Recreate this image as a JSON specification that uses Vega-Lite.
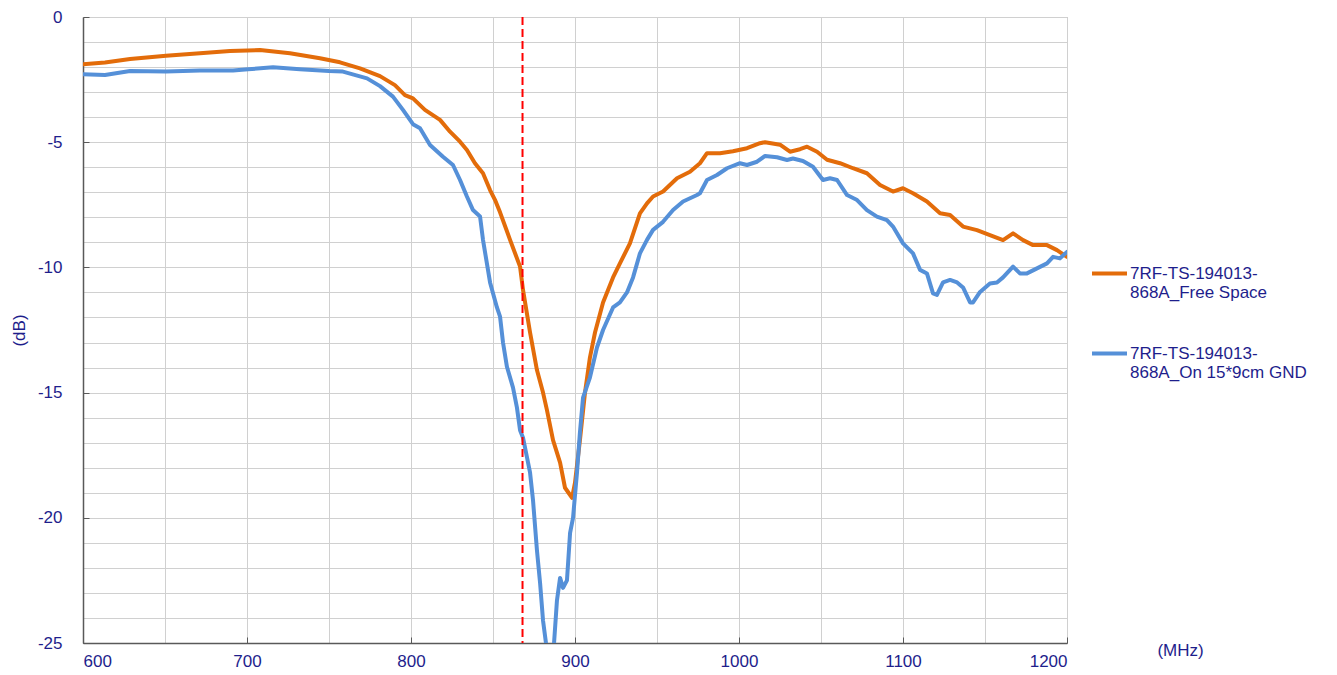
{
  "$schema": "https://vega.github.io/schema/vega-lite/v6.json",
  "width": 984,
  "height": 626,
  "autosize": {"type": "none"},
  "padding": {"left": 83, "top": 17, "right": 270, "bottom": 32},
  "background": "white",
  "config": {
    "view": {"stroke": "#b0b0b0", "strokeWidth": 1},
    "font": "Liberation Sans"
  },
  "datasets": {
    "curves": [
      {"f": 600, "db": -1.89, "s": "7RF-TS-194013-\n868A_Free Space"},
      {"f": 613.4, "db": -1.82, "s": "7RF-TS-194013-\n868A_Free Space"},
      {"f": 628.7, "db": -1.68, "s": "7RF-TS-194013-\n868A_Free Space"},
      {"f": 650.6, "db": -1.55, "s": "7RF-TS-194013-\n868A_Free Space"},
      {"f": 671.3, "db": -1.45, "s": "7RF-TS-194013-\n868A_Free Space"},
      {"f": 689.6, "db": -1.36, "s": "7RF-TS-194013-\n868A_Free Space"},
      {"f": 707.9, "db": -1.32, "s": "7RF-TS-194013-\n868A_Free Space"},
      {"f": 726.2, "db": -1.45, "s": "7RF-TS-194013-\n868A_Free Space"},
      {"f": 744.5, "db": -1.65, "s": "7RF-TS-194013-\n868A_Free Space"},
      {"f": 756.7, "db": -1.81, "s": "7RF-TS-194013-\n868A_Free Space"},
      {"f": 768.9, "db": -2.05, "s": "7RF-TS-194013-\n868A_Free Space"},
      {"f": 781.1, "db": -2.36, "s": "7RF-TS-194013-\n868A_Free Space"},
      {"f": 790.2, "db": -2.72, "s": "7RF-TS-194013-\n868A_Free Space"},
      {"f": 796.3, "db": -3.12, "s": "7RF-TS-194013-\n868A_Free Space"},
      {"f": 801.2, "db": -3.25, "s": "7RF-TS-194013-\n868A_Free Space"},
      {"f": 808.5, "db": -3.71, "s": "7RF-TS-194013-\n868A_Free Space"},
      {"f": 817.7, "db": -4.11, "s": "7RF-TS-194013-\n868A_Free Space"},
      {"f": 823.8, "db": -4.58, "s": "7RF-TS-194013-\n868A_Free Space"},
      {"f": 829.9, "db": -4.98, "s": "7RF-TS-194013-\n868A_Free Space"},
      {"f": 834.1, "db": -5.31, "s": "7RF-TS-194013-\n868A_Free Space"},
      {"f": 839.0, "db": -5.84, "s": "7RF-TS-194013-\n868A_Free Space"},
      {"f": 843.9, "db": -6.24, "s": "7RF-TS-194013-\n868A_Free Space"},
      {"f": 848.2, "db": -6.91, "s": "7RF-TS-194013-\n868A_Free Space"},
      {"f": 851.2, "db": -7.3, "s": "7RF-TS-194013-\n868A_Free Space"},
      {"f": 854.3, "db": -7.8, "s": "7RF-TS-194013-\n868A_Free Space"},
      {"f": 860.4, "db": -8.9, "s": "7RF-TS-194013-\n868A_Free Space"},
      {"f": 866.5, "db": -9.97, "s": "7RF-TS-194013-\n868A_Free Space"},
      {"f": 868.3, "db": -10.9, "s": "7RF-TS-194013-\n868A_Free Space"},
      {"f": 872.6, "db": -12.6, "s": "7RF-TS-194013-\n868A_Free Space"},
      {"f": 876.8, "db": -14.1, "s": "7RF-TS-194013-\n868A_Free Space"},
      {"f": 880.5, "db": -15.0, "s": "7RF-TS-194013-\n868A_Free Space"},
      {"f": 882.9, "db": -15.7, "s": "7RF-TS-194013-\n868A_Free Space"},
      {"f": 886.6, "db": -16.9, "s": "7RF-TS-194013-\n868A_Free Space"},
      {"f": 890.9, "db": -17.8, "s": "7RF-TS-194013-\n868A_Free Space"},
      {"f": 893.9, "db": -18.8, "s": "7RF-TS-194013-\n868A_Free Space"},
      {"f": 898.2, "db": -19.2, "s": "7RF-TS-194013-\n868A_Free Space"},
      {"f": 900.0, "db": -18.6, "s": "7RF-TS-194013-\n868A_Free Space"},
      {"f": 903.0, "db": -16.9, "s": "7RF-TS-194013-\n868A_Free Space"},
      {"f": 906.1, "db": -15.0, "s": "7RF-TS-194013-\n868A_Free Space"},
      {"f": 909.1, "db": -13.6, "s": "7RF-TS-194013-\n868A_Free Space"},
      {"f": 912.2, "db": -12.6, "s": "7RF-TS-194013-\n868A_Free Space"},
      {"f": 917.1, "db": -11.4, "s": "7RF-TS-194013-\n868A_Free Space"},
      {"f": 923.2, "db": -10.4, "s": "7RF-TS-194013-\n868A_Free Space"},
      {"f": 927.4, "db": -9.84, "s": "7RF-TS-194013-\n868A_Free Space"},
      {"f": 933.5, "db": -9.04, "s": "7RF-TS-194013-\n868A_Free Space"},
      {"f": 939.6, "db": -7.84, "s": "7RF-TS-194013-\n868A_Free Space"},
      {"f": 943.9, "db": -7.44, "s": "7RF-TS-194013-\n868A_Free Space"},
      {"f": 947.6, "db": -7.17, "s": "7RF-TS-194013-\n868A_Free Space"},
      {"f": 953.7, "db": -6.97, "s": "7RF-TS-194013-\n868A_Free Space"},
      {"f": 962.2, "db": -6.44, "s": "7RF-TS-194013-\n868A_Free Space"},
      {"f": 970.1, "db": -6.18, "s": "7RF-TS-194013-\n868A_Free Space"},
      {"f": 976.2, "db": -5.84, "s": "7RF-TS-194013-\n868A_Free Space"},
      {"f": 980.5, "db": -5.44, "s": "7RF-TS-194013-\n868A_Free Space"},
      {"f": 988.4, "db": -5.44, "s": "7RF-TS-194013-\n868A_Free Space"},
      {"f": 996.3, "db": -5.36, "s": "7RF-TS-194013-\n868A_Free Space"},
      {"f": 1004.9, "db": -5.24, "s": "7RF-TS-194013-\n868A_Free Space"},
      {"f": 1012.8, "db": -5.04, "s": "7RF-TS-194013-\n868A_Free Space"},
      {"f": 1015.9, "db": -5.0, "s": "7RF-TS-194013-\n868A_Free Space"},
      {"f": 1025.0, "db": -5.1, "s": "7RF-TS-194013-\n868A_Free Space"},
      {"f": 1031.1, "db": -5.38, "s": "7RF-TS-194013-\n868A_Free Space"},
      {"f": 1037.2, "db": -5.28, "s": "7RF-TS-194013-\n868A_Free Space"},
      {"f": 1041.5, "db": -5.18, "s": "7RF-TS-194013-\n868A_Free Space"},
      {"f": 1047.6, "db": -5.38, "s": "7RF-TS-194013-\n868A_Free Space"},
      {"f": 1053.7, "db": -5.7, "s": "7RF-TS-194013-\n868A_Free Space"},
      {"f": 1061.6, "db": -5.84, "s": "7RF-TS-194013-\n868A_Free Space"},
      {"f": 1069.5, "db": -6.04, "s": "7RF-TS-194013-\n868A_Free Space"},
      {"f": 1078.0, "db": -6.24, "s": "7RF-TS-194013-\n868A_Free Space"},
      {"f": 1086.0, "db": -6.71, "s": "7RF-TS-194013-\n868A_Free Space"},
      {"f": 1093.9, "db": -6.97, "s": "7RF-TS-194013-\n868A_Free Space"},
      {"f": 1100.0, "db": -6.84, "s": "7RF-TS-194013-\n868A_Free Space"},
      {"f": 1106.1, "db": -7.04, "s": "7RF-TS-194013-\n868A_Free Space"},
      {"f": 1114.6, "db": -7.37, "s": "7RF-TS-194013-\n868A_Free Space"},
      {"f": 1122.6, "db": -7.84, "s": "7RF-TS-194013-\n868A_Free Space"},
      {"f": 1128.7, "db": -7.91, "s": "7RF-TS-194013-\n868A_Free Space"},
      {"f": 1136.6, "db": -8.37, "s": "7RF-TS-194013-\n868A_Free Space"},
      {"f": 1145.1, "db": -8.51, "s": "7RF-TS-194013-\n868A_Free Space"},
      {"f": 1153.0, "db": -8.71, "s": "7RF-TS-194013-\n868A_Free Space"},
      {"f": 1161.0, "db": -8.91, "s": "7RF-TS-194013-\n868A_Free Space"},
      {"f": 1167.1, "db": -8.64, "s": "7RF-TS-194013-\n868A_Free Space"},
      {"f": 1173.2, "db": -8.91, "s": "7RF-TS-194013-\n868A_Free Space"},
      {"f": 1179.3, "db": -9.11, "s": "7RF-TS-194013-\n868A_Free Space"},
      {"f": 1187.8, "db": -9.11, "s": "7RF-TS-194013-\n868A_Free Space"},
      {"f": 1193.9, "db": -9.31, "s": "7RF-TS-194013-\n868A_Free Space"},
      {"f": 1200, "db": -9.58, "s": "7RF-TS-194013-\n868A_Free Space"},

      {"f": 600, "db": -2.29, "s": "7RF-TS-194013-\n868A_On 15*9cm GND"},
      {"f": 613.4, "db": -2.32, "s": "7RF-TS-194013-\n868A_On 15*9cm GND"},
      {"f": 628.7, "db": -2.16, "s": "7RF-TS-194013-\n868A_On 15*9cm GND"},
      {"f": 650.6, "db": -2.18, "s": "7RF-TS-194013-\n868A_On 15*9cm GND"},
      {"f": 671.3, "db": -2.14, "s": "7RF-TS-194013-\n868A_On 15*9cm GND"},
      {"f": 691.5, "db": -2.14, "s": "7RF-TS-194013-\n868A_On 15*9cm GND"},
      {"f": 700.6, "db": -2.09, "s": "7RF-TS-194013-\n868A_On 15*9cm GND"},
      {"f": 715.9, "db": -2.01, "s": "7RF-TS-194013-\n868A_On 15*9cm GND"},
      {"f": 732.3, "db": -2.09, "s": "7RF-TS-194013-\n868A_On 15*9cm GND"},
      {"f": 750.0, "db": -2.16, "s": "7RF-TS-194013-\n868A_On 15*9cm GND"},
      {"f": 758.5, "db": -2.18, "s": "7RF-TS-194013-\n868A_On 15*9cm GND"},
      {"f": 773.2, "db": -2.45, "s": "7RF-TS-194013-\n868A_On 15*9cm GND"},
      {"f": 781.1, "db": -2.76, "s": "7RF-TS-194013-\n868A_On 15*9cm GND"},
      {"f": 789.0, "db": -3.18, "s": "7RF-TS-194013-\n868A_On 15*9cm GND"},
      {"f": 795.1, "db": -3.71, "s": "7RF-TS-194013-\n868A_On 15*9cm GND"},
      {"f": 801.2, "db": -4.28, "s": "7RF-TS-194013-\n868A_On 15*9cm GND"},
      {"f": 805.5, "db": -4.44, "s": "7RF-TS-194013-\n868A_On 15*9cm GND"},
      {"f": 811.6, "db": -5.11, "s": "7RF-TS-194013-\n868A_On 15*9cm GND"},
      {"f": 819.5, "db": -5.58, "s": "7RF-TS-194013-\n868A_On 15*9cm GND"},
      {"f": 825.6, "db": -5.91, "s": "7RF-TS-194013-\n868A_On 15*9cm GND"},
      {"f": 829.9, "db": -6.51, "s": "7RF-TS-194013-\n868A_On 15*9cm GND"},
      {"f": 834.1, "db": -7.17, "s": "7RF-TS-194013-\n868A_On 15*9cm GND"},
      {"f": 837.8, "db": -7.71, "s": "7RF-TS-194013-\n868A_On 15*9cm GND"},
      {"f": 842.1, "db": -7.97, "s": "7RF-TS-194013-\n868A_On 15*9cm GND"},
      {"f": 843.9, "db": -8.9, "s": "7RF-TS-194013-\n868A_On 15*9cm GND"},
      {"f": 848.2, "db": -10.6, "s": "7RF-TS-194013-\n868A_On 15*9cm GND"},
      {"f": 852.4, "db": -11.6, "s": "7RF-TS-194013-\n868A_On 15*9cm GND"},
      {"f": 854.3, "db": -11.97, "s": "7RF-TS-194013-\n868A_On 15*9cm GND"},
      {"f": 856.1, "db": -13.0, "s": "7RF-TS-194013-\n868A_On 15*9cm GND"},
      {"f": 858.5, "db": -13.97, "s": "7RF-TS-194013-\n868A_On 15*9cm GND"},
      {"f": 862.2, "db": -14.8, "s": "7RF-TS-194013-\n868A_On 15*9cm GND"},
      {"f": 864.6, "db": -15.6, "s": "7RF-TS-194013-\n868A_On 15*9cm GND"},
      {"f": 866.5, "db": -16.5, "s": "7RF-TS-194013-\n868A_On 15*9cm GND"},
      {"f": 868.3, "db": -16.8, "s": "7RF-TS-194013-\n868A_On 15*9cm GND"},
      {"f": 872.6, "db": -18.2, "s": "7RF-TS-194013-\n868A_On 15*9cm GND"},
      {"f": 874.4, "db": -19.3, "s": "7RF-TS-194013-\n868A_On 15*9cm GND"},
      {"f": 876.8, "db": -21.3, "s": "7RF-TS-194013-\n868A_On 15*9cm GND"},
      {"f": 878.7, "db": -22.6, "s": "7RF-TS-194013-\n868A_On 15*9cm GND"},
      {"f": 880.5, "db": -24.1, "s": "7RF-TS-194013-\n868A_On 15*9cm GND"},
      {"f": 882.9, "db": -25.3, "s": "7RF-TS-194013-\n868A_On 15*9cm GND"},
      {"f": 884.8, "db": -26.2, "s": "7RF-TS-194013-\n868A_On 15*9cm GND"},
      {"f": 886.6, "db": -25.6, "s": "7RF-TS-194013-\n868A_On 15*9cm GND"},
      {"f": 889.0, "db": -23.3, "s": "7RF-TS-194013-\n868A_On 15*9cm GND"},
      {"f": 890.9, "db": -22.4, "s": "7RF-TS-194013-\n868A_On 15*9cm GND"},
      {"f": 892.7, "db": -22.8, "s": "7RF-TS-194013-\n868A_On 15*9cm GND"},
      {"f": 895.1, "db": -22.5, "s": "7RF-TS-194013-\n868A_On 15*9cm GND"},
      {"f": 897.0, "db": -20.6, "s": "7RF-TS-194013-\n868A_On 15*9cm GND"},
      {"f": 898.8, "db": -20.0, "s": "7RF-TS-194013-\n868A_On 15*9cm GND"},
      {"f": 901.2, "db": -18.2, "s": "7RF-TS-194013-\n868A_On 15*9cm GND"},
      {"f": 903.0, "db": -16.6, "s": "7RF-TS-194013-\n868A_On 15*9cm GND"},
      {"f": 904.9, "db": -15.2, "s": "7RF-TS-194013-\n868A_On 15*9cm GND"},
      {"f": 909.1, "db": -14.4, "s": "7RF-TS-194013-\n868A_On 15*9cm GND"},
      {"f": 913.4, "db": -13.2, "s": "7RF-TS-194013-\n868A_On 15*9cm GND"},
      {"f": 917.1, "db": -12.5, "s": "7RF-TS-194013-\n868A_On 15*9cm GND"},
      {"f": 923.2, "db": -11.6, "s": "7RF-TS-194013-\n868A_On 15*9cm GND"},
      {"f": 927.4, "db": -11.4, "s": "7RF-TS-194013-\n868A_On 15*9cm GND"},
      {"f": 931.7, "db": -11.0, "s": "7RF-TS-194013-\n868A_On 15*9cm GND"},
      {"f": 935.4, "db": -10.4, "s": "7RF-TS-194013-\n868A_On 15*9cm GND"},
      {"f": 939.6, "db": -9.44, "s": "7RF-TS-194013-\n868A_On 15*9cm GND"},
      {"f": 943.9, "db": -8.9, "s": "7RF-TS-194013-\n868A_On 15*9cm GND"},
      {"f": 947.6, "db": -8.5, "s": "7RF-TS-194013-\n868A_On 15*9cm GND"},
      {"f": 953.7, "db": -8.18, "s": "7RF-TS-194013-\n868A_On 15*9cm GND"},
      {"f": 959.8, "db": -7.71, "s": "7RF-TS-194013-\n868A_On 15*9cm GND"},
      {"f": 965.9, "db": -7.37, "s": "7RF-TS-194013-\n868A_On 15*9cm GND"},
      {"f": 974.4, "db": -7.11, "s": "7RF-TS-194013-\n868A_On 15*9cm GND"},
      {"f": 976.2, "db": -7.04, "s": "7RF-TS-194013-\n868A_On 15*9cm GND"},
      {"f": 980.5, "db": -6.51, "s": "7RF-TS-194013-\n868A_On 15*9cm GND"},
      {"f": 986.6, "db": -6.31, "s": "7RF-TS-194013-\n868A_On 15*9cm GND"},
      {"f": 992.7, "db": -6.04, "s": "7RF-TS-194013-\n868A_On 15*9cm GND"},
      {"f": 1000.6, "db": -5.84, "s": "7RF-TS-194013-\n868A_On 15*9cm GND"},
      {"f": 1004.9, "db": -5.91, "s": "7RF-TS-194013-\n868A_On 15*9cm GND"},
      {"f": 1011.0, "db": -5.78, "s": "7RF-TS-194013-\n868A_On 15*9cm GND"},
      {"f": 1015.9, "db": -5.55, "s": "7RF-TS-194013-\n868A_On 15*9cm GND"},
      {"f": 1023.2, "db": -5.6, "s": "7RF-TS-194013-\n868A_On 15*9cm GND"},
      {"f": 1029.3, "db": -5.71, "s": "7RF-TS-194013-\n868A_On 15*9cm GND"},
      {"f": 1032.9, "db": -5.65, "s": "7RF-TS-194013-\n868A_On 15*9cm GND"},
      {"f": 1039.0, "db": -5.75, "s": "7RF-TS-194013-\n868A_On 15*9cm GND"},
      {"f": 1045.1, "db": -5.98, "s": "7RF-TS-194013-\n868A_On 15*9cm GND"},
      {"f": 1051.2, "db": -6.51, "s": "7RF-TS-194013-\n868A_On 15*9cm GND"},
      {"f": 1055.5, "db": -6.44, "s": "7RF-TS-194013-\n868A_On 15*9cm GND"},
      {"f": 1059.8, "db": -6.51, "s": "7RF-TS-194013-\n868A_On 15*9cm GND"},
      {"f": 1065.9, "db": -7.11, "s": "7RF-TS-194013-\n868A_On 15*9cm GND"},
      {"f": 1072.0, "db": -7.31, "s": "7RF-TS-194013-\n868A_On 15*9cm GND"},
      {"f": 1078.0, "db": -7.71, "s": "7RF-TS-194013-\n868A_On 15*9cm GND"},
      {"f": 1084.1, "db": -7.97, "s": "7RF-TS-194013-\n868A_On 15*9cm GND"},
      {"f": 1090.2, "db": -8.11, "s": "7RF-TS-194013-\n868A_On 15*9cm GND"},
      {"f": 1093.9, "db": -8.37, "s": "7RF-TS-194013-\n868A_On 15*9cm GND"},
      {"f": 1100.0, "db": -9.04, "s": "7RF-TS-194013-\n868A_On 15*9cm GND"},
      {"f": 1106.1, "db": -9.44, "s": "7RF-TS-194013-\n868A_On 15*9cm GND"},
      {"f": 1110.4, "db": -10.1, "s": "7RF-TS-194013-\n868A_On 15*9cm GND"},
      {"f": 1114.6, "db": -10.24, "s": "7RF-TS-194013-\n868A_On 15*9cm GND"},
      {"f": 1118.3, "db": -11.04, "s": "7RF-TS-194013-\n868A_On 15*9cm GND"},
      {"f": 1120.7, "db": -11.1, "s": "7RF-TS-194013-\n868A_On 15*9cm GND"},
      {"f": 1124.4, "db": -10.6, "s": "7RF-TS-194013-\n868A_On 15*9cm GND"},
      {"f": 1128.7, "db": -10.5, "s": "7RF-TS-194013-\n868A_On 15*9cm GND"},
      {"f": 1133.0, "db": -10.6, "s": "7RF-TS-194013-\n868A_On 15*9cm GND"},
      {"f": 1136.6, "db": -10.8, "s": "7RF-TS-194013-\n868A_On 15*9cm GND"},
      {"f": 1140.9, "db": -11.4, "s": "7RF-TS-194013-\n868A_On 15*9cm GND"},
      {"f": 1142.7, "db": -11.4, "s": "7RF-TS-194013-\n868A_On 15*9cm GND"},
      {"f": 1147.0, "db": -10.98, "s": "7RF-TS-194013-\n868A_On 15*9cm GND"},
      {"f": 1153.0, "db": -10.64, "s": "7RF-TS-194013-\n868A_On 15*9cm GND"},
      {"f": 1157.3, "db": -10.6, "s": "7RF-TS-194013-\n868A_On 15*9cm GND"},
      {"f": 1161.0, "db": -10.4, "s": "7RF-TS-194013-\n868A_On 15*9cm GND"},
      {"f": 1167.1, "db": -9.97, "s": "7RF-TS-194013-\n868A_On 15*9cm GND"},
      {"f": 1171.3, "db": -10.24, "s": "7RF-TS-194013-\n868A_On 15*9cm GND"},
      {"f": 1175.6, "db": -10.24, "s": "7RF-TS-194013-\n868A_On 15*9cm GND"},
      {"f": 1181.7, "db": -10.04, "s": "7RF-TS-194013-\n868A_On 15*9cm GND"},
      {"f": 1187.8, "db": -9.84, "s": "7RF-TS-194013-\n868A_On 15*9cm GND"},
      {"f": 1191.5, "db": -9.58, "s": "7RF-TS-194013-\n868A_On 15*9cm GND"},
      {"f": 1195.7, "db": -9.64, "s": "7RF-TS-194013-\n868A_On 15*9cm GND"},
      {"f": 1200, "db": -9.38, "s": "7RF-TS-194013-\n868A_On 15*9cm GND"}
    ],
    "marker": [{"f": 868}]
  },
  "layer": [
    {
      "data": {"name": "curves"},
      "mark": {"type": "line", "strokeWidth": 4, "clip": true, "strokeJoin": "round", "strokeCap": "round"},
      "encoding": {
        "x": {
          "field": "f", "type": "quantitative",
          "scale": {"domain": [600, 1200], "nice": false, "zero": false},
          "axis": {
            "values": [600, 650, 700, 750, 800, 850, 900, 950, 1000, 1050, 1100, 1150, 1200],
            "labelExpr": "datum.value % 100 === 0 ? '' + datum.value : ''",
            "grid": true, "gridColor": "#d0d0d0", "gridWidth": 1,
            "domainColor": "#595959", "domainWidth": 1.5,
            "ticks": true, "tickSize": -6, "tickColor": "#595959",
            "tickOpacity": {"condition": {"test": "datum.value % 100 === 0", "value": 1}, "value": 0},
            "labelFont": "Liberation Sans", "labelFontSize": 17, "labelColor": "#1e1e8c",
            "labelPadding": 16,
            "title": "(MHz)", "titleFont": "Liberation Sans", "titleFontSize": 17,
            "titleFontWeight": "normal", "titleColor": "#1e1e8c",
            "titleX": 1097, "titleY": 7, "titleAlign": "center", "titleBaseline": "middle"
          }
        },
        "y": {
          "field": "db", "type": "quantitative",
          "scale": {"domain": [-25, 0], "nice": false, "zero": false},
          "axis": {
            "values": [-25, -24, -23, -22, -21, -20, -19, -18, -17, -16, -15, -14, -13, -12, -11, -10, -9, -8, -7, -6, -5, -4, -3, -2, -1, 0],
            "labelExpr": "datum.value % 5 === 0 ? '' + datum.value : ''",
            "grid": true, "gridColor": "#d0d0d0", "gridWidth": 1,
            "domainColor": "#595959", "domainWidth": 1.5,
            "ticks": true, "tickSize": -6, "tickColor": "#595959",
            "tickOpacity": {"condition": {"test": "datum.value % 5 === 0", "value": 1}, "value": 0},
            "labelFont": "Liberation Sans", "labelFontSize": 17, "labelColor": "#1e1e8c",
            "labelPadding": 27,
            "title": "(dB)", "titleFont": "Liberation Sans", "titleFontSize": 17,
            "titleFontWeight": "normal", "titleColor": "#1e1e8c",
            "titleX": -64, "titleY": 313, "titleAlign": "center", "titleBaseline": "middle", "titleAngle": -90
          }
        },
        "color": {
          "field": "s", "type": "nominal",
          "scale": {
            "domain": ["7RF-TS-194013-\n868A_Free Space", "7RF-TS-194013-\n868A_On 15*9cm GND"],
            "range": ["#E36C0A", "#5590D8"]
          },
          "legend": {
            "title": null,
            "orient": "none",
            "legendX": 1007,
            "legendY": 237,
            "symbolType": "stroke",
            "symbolSize": 1225,
            "symbolStrokeWidth": 4,
            "labelExpr": "split(datum.label, '\\n')",
            "labelFont": "Liberation Sans",
            "labelFontSize": 17,
            "labelColor": "#1e1e8c",
            "labelLimit": 300,
            "labelOffset": 1,
            "rowPadding": 33
          }
        }
      }
    },
    {
      "data": {"name": "marker"},
      "mark": {"type": "rule", "color": "#ff0000", "strokeWidth": 2, "strokeDash": [8, 4]},
      "encoding": {
        "x": {"field": "f", "type": "quantitative"}
      }
    }
  ]
}
